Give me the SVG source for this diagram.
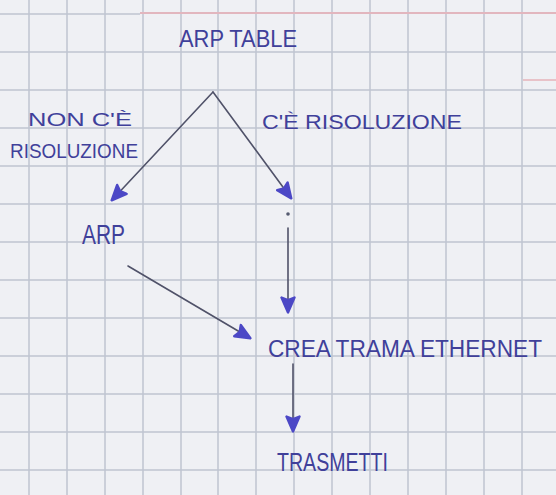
<svg xmlns="http://www.w3.org/2000/svg" width="556" height="495" viewBox="0 0 556 495">
  <style>
    .grid line { stroke: #bfc5d0; stroke-width: 1.5; }
    .ink { font-family: "Liberation Sans", "DejaVu Sans", sans-serif; fill: #40409a; font-weight: 400; }
    .wire { fill: none; stroke: #505269; stroke-width: 1.6; stroke-linecap: round; marker-end: url(#head); }
  </style>
  <defs>
    <marker id="head" viewBox="0 0 18 16" refX="16" refY="8" markerWidth="18" markerHeight="16" markerUnits="userSpaceOnUse" orient="auto">
      <path d="M1.5,1.5 L16.5,8 L1.5,14.5 L4,8 Z" fill="#4c48c6" stroke="#4c48c6" stroke-width="2.4" stroke-linejoin="round"/>
    </marker>
  </defs>

  <!-- squared paper -->
  <rect width="556" height="495" fill="#eff0f4"/>
  <g class="grid">
    <line x1="29" y1="0" x2="29" y2="495"/>
    <line x1="67" y1="0" x2="67" y2="495"/>
    <line x1="105" y1="0" x2="105" y2="495"/>
    <line x1="143" y1="0" x2="143" y2="495"/>
    <line x1="181" y1="0" x2="181" y2="495"/>
    <line x1="218" y1="0" x2="218" y2="495"/>
    <line x1="256" y1="0" x2="256" y2="495"/>
    <line x1="294" y1="0" x2="294" y2="495"/>
    <line x1="332" y1="0" x2="332" y2="495"/>
    <line x1="370" y1="0" x2="370" y2="495"/>
    <line x1="408" y1="0" x2="408" y2="495"/>
    <line x1="446" y1="0" x2="446" y2="495"/>
    <line x1="484" y1="0" x2="484" y2="495"/>
    <line x1="522" y1="0" x2="522" y2="495"/>
    <line x1="0" y1="52" x2="556" y2="52"/>
    <line x1="0" y1="90" x2="556" y2="90"/>
    <line x1="0" y1="128" x2="556" y2="128"/>
    <line x1="0" y1="166" x2="556" y2="166"/>
    <line x1="0" y1="204" x2="556" y2="204"/>
    <line x1="0" y1="242" x2="556" y2="242"/>
    <line x1="0" y1="280" x2="556" y2="280"/>
    <line x1="0" y1="318" x2="556" y2="318"/>
    <line x1="0" y1="356" x2="556" y2="356"/>
    <line x1="0" y1="394" x2="556" y2="394"/>
    <line x1="0" y1="432" x2="556" y2="432"/>
    <line x1="0" y1="470" x2="556" y2="470"/>
    <line x1="0" y1="14" x2="140" y2="14"/>
  </g>
  <!-- red margin rules -->
  <line x1="140" y1="13" x2="556" y2="13" stroke="#e2b6be" stroke-width="2.2"/>
  <line x1="523" y1="80" x2="556" y2="80" stroke="#e8c2c8" stroke-width="2"/>

  <!-- connectors -->
  <g id="connectors">
    <path class="wire" d="M213,92 L112,200"/>
    <path class="wire" d="M213,92 L291,198"/>
    <circle cx="288" cy="214" r="1.8" fill="#555a70"/>
    <path class="wire" d="M288,228 L288,312"/>
    <path class="wire" d="M128,266 L250,338"/>
    <path class="wire" d="M293,364 L293,431"/>
  </g>

  <!-- nodes -->
  <g id="arp-table">
    <text class="ink" x="179" y="47" font-size="23" textLength="118" lengthAdjust="spacingAndGlyphs">ARP TABLE</text>
  </g>
  <g id="label-no-resolution">
    <text class="ink" x="28" y="126" font-size="18" textLength="104" lengthAdjust="spacingAndGlyphs">NON C'È</text>
    <text class="ink" x="10" y="158" font-size="21" textLength="128" lengthAdjust="spacingAndGlyphs">RISOLUZIONE</text>
  </g>
  <g id="label-resolution">
    <text class="ink" x="262" y="129" font-size="20" textLength="200" lengthAdjust="spacingAndGlyphs">C'È RISOLUZIONE</text>
  </g>
  <g id="arp">
    <text class="ink" x="82" y="244" font-size="27" textLength="43" lengthAdjust="spacingAndGlyphs">ARP</text>
  </g>
  <g id="build-frame">
    <text class="ink" x="268" y="357" font-size="23" textLength="274" lengthAdjust="spacingAndGlyphs">CREA TRAMA ETHERNET</text>
  </g>
  <g id="transmit">
    <text class="ink" x="277" y="471" font-size="26" textLength="111" lengthAdjust="spacingAndGlyphs">TRASMETTI</text>
  </g>
</svg>
